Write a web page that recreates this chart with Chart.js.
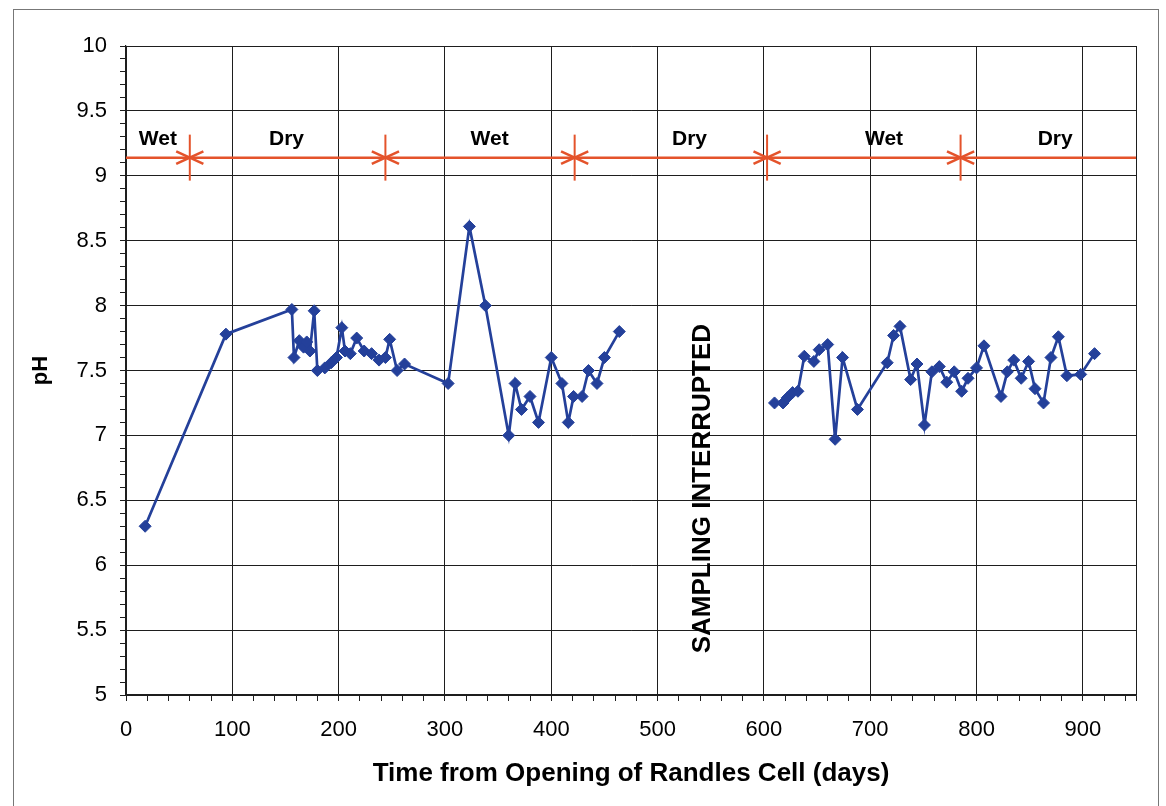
<!DOCTYPE html>
<html><head><meta charset="utf-8">
<script src="https://cdn.jsdelivr.net/npm/chart.js@4/dist/chart.umd.min.js"></script>
<style>
html,body{margin:0;padding:0;background:#fff;}
#wrap{position:relative;width:1166px;height:806px;overflow:hidden;}
#frame{position:absolute;left:13px;top:9px;width:1146px;height:820px;border:1px solid #777;box-sizing:border-box;}
canvas{position:absolute;left:0;top:0;}
</style></head><body>
<div id="wrap"><div id="frame"></div><canvas id="c" width="1166" height="806"></canvas></div>
<script>
// ---- Data ----
const daysBefore = [18, 94, 156, 158, 163, 167, 170, 173, 177, 180, 187, 193, 198, 203, 206, 211, 217, 224, 231, 238, 244, 248, 255, 262, 303, 323, 338, 360, 366, 372, 380, 388, 400, 410, 416, 421, 429, 435, 443, 450, 464];
const phBefore   = [6.3, 7.78, 7.97, 7.6, 7.73, 7.68, 7.72, 7.65, 7.96, 7.5, 7.52, 7.56, 7.6, 7.83, 7.65, 7.63, 7.75, 7.65, 7.63, 7.58, 7.6, 7.74, 7.5, 7.55, 7.4, 8.61, 8.0, 7.0, 7.4, 7.2, 7.3, 7.1, 7.6, 7.4, 7.1, 7.3, 7.3, 7.5, 7.4, 7.6, 7.8];
const daysAfter  = [610, 618, 622, 627, 632, 638, 647, 652, 660, 667, 674, 688, 716, 722, 728, 738, 744, 751, 758, 765, 772, 779, 786, 792, 800, 807, 823, 829, 835, 842, 849, 855, 863, 870, 877, 885, 898, 911];
const phAfter    = [7.25, 7.25, 7.29, 7.33, 7.34, 7.61, 7.57, 7.66, 7.7, 6.97, 7.6, 7.2, 7.56, 7.77, 7.84, 7.43, 7.55, 7.08, 7.49, 7.53, 7.41, 7.49, 7.34, 7.44, 7.52, 7.69, 7.30, 7.49, 7.58, 7.44, 7.57, 7.36, 7.25, 7.6, 7.76, 7.46, 7.47, 7.63];

const seasonLevel = 9.14;
const seasonLineEnds = [0, 950];
const seasonChangeDays = [60, 244, 422, 603, 785];
const seasonLabels = ['Wet', 'Dry', 'Wet', 'Dry', 'Wet', 'Dry'];
const seasonLabelDays = [30, 151, 342, 530, 713, 874];
const seasonLabelLevel = 9.28;

const noteText = 'SAMPLING INTERRUPTED';
const noteDay = 543;
const noteLevel = 6.59;

const xTickLabels = [0, 100, 200, 300, 400, 500, 600, 700, 800, 900];
const yTickLabels = ['5', '5.5', '6', '6.5', '7', '7.5', '8', '8.5', '9', '9.5', '10'];
const xMin = 0, xMax = 950, xMinorStep = 20;
const yMin = 5, yMax = 10, yMinorStep = 0.1;

// ---- Build datasets ----
const phPoints = daysBefore.map((d, i) => ({x: d, y: phBefore[i]}))
  .concat([{x: 535, y: null}])
  .concat(daysAfter.map((d, i) => ({x: d, y: phAfter[i]})));

const seasonLinePoints = [{x: seasonLineEnds[0], y: seasonLevel}]
  .concat(seasonChangeDays.map(d => ({x: d, y: seasonLevel})))
  .concat([{x: seasonLineEnds[1], y: seasonLevel}]);
const seasonMarks = seasonChangeDays.map(d => ({x: d, y: seasonLevel}));

const BLUE = '#24409a';
const RED = '#e4532b';
const GRID = '#1e1e1e';
const FONT = '"Liberation Sans", Arial, sans-serif';

const isMajorY = v => Math.abs(v * 2 - Math.round(v * 2)) < 1e-6;
const isMajorX = v => xTickLabels.includes(v) || v === xMax;

const textPlugin = {
  id: 'texts',
  afterDatasetsDraw(chart) {
    const {ctx, scales: {x, y}} = chart;
    ctx.save();
    ctx.fillStyle = '#000';
    ctx.font = 'bold 21px ' + FONT;
    ctx.textAlign = 'center';
    ctx.textBaseline = 'middle';
    seasonLabels.forEach((t, i) => {
      ctx.fillText(t, x.getPixelForValue(seasonLabelDays[i]), y.getPixelForValue(seasonLabelLevel));
    });
    ctx.translate(x.getPixelForValue(noteDay), y.getPixelForValue(noteLevel));
    ctx.rotate(-Math.PI / 2);
    ctx.font = 'bold 26px ' + FONT;
    ctx.fillText(noteText, 0, 0);
    ctx.restore();
  }
};

new Chart(document.getElementById('c'), {
  type: 'line',
  data: {
    datasets: [
      {
        data: phPoints,
        borderColor: BLUE,
        backgroundColor: BLUE,
        borderWidth: 2.7,
        pointStyle: 'rectRot',
        pointRadius: 6,
        pointBorderWidth: 1,
        pointBackgroundColor: BLUE,
        pointBorderColor: BLUE,
        spanGaps: false,
        tension: 0,
        order: 1
      },
      {
        data: seasonLinePoints,
        borderColor: RED,
        borderWidth: 2.5,
        pointStyle: 'line',
        pointRotation: 90,
        pointRadius: ctx => (ctx.dataIndex === 0 || ctx.dataIndex === seasonLinePoints.length - 1) ? 0 : 23,
        pointBorderColor: RED,
        pointBorderWidth: 2,
        tension: 0,
        order: 2
      },
      {
        data: seasonMarks,
        showLine: false,
        pointStyle: 'line',
        pointRotation: 25,
        pointRadius: 15,
        pointBorderColor: RED,
        pointBorderWidth: 2.5,
        order: 2
      },
      {
        data: seasonMarks,
        showLine: false,
        pointStyle: 'line',
        pointRotation: -25,
        pointRadius: 15,
        pointBorderColor: RED,
        pointBorderWidth: 2.5,
        order: 2
      }
    ]
  },
  options: {
    responsive: false,
    animation: false,
    devicePixelRatio: 1,
    layout: {padding: {left: 14, top: 46, right: 30, bottom: 0}},
    plugins: {legend: {display: false}, tooltip: {enabled: false}},
    scales: {
      x: {
        type: 'linear',
        min: xMin, max: xMax,
        afterBuildTicks: s => {
          const t = [];
          for (let v = xMin; v < xMax; v += xMinorStep) t.push({value: v});
          t.push({value: xMax});
          s.ticks = t;
        },
        afterFit: s => { s.height = 111; },
        ticks: {
          autoSkip: false, maxRotation: 0, minRotation: 0,
          color: '#000',
          font: {family: FONT, size: 22},
          padding: 16,
          callback: v => xTickLabels.includes(v) ? String(v) : ''
        },
        grid: {
          color: c => (c.tick && isMajorX(c.tick.value)) ? GRID : 'rgba(0,0,0,0)',
          tickColor: GRID,
          tickLength: 6,
          lineWidth: 1
        },
        border: {display: true, color: GRID, width: 1.2},
        title: {
          display: true,
          text: 'Time from Opening of Randles Cell (days)',
          color: '#000',
          font: {family: FONT, size: 26, weight: 'bold'},
          padding: {top: 0, bottom: 17}
        }
      },
      y: {
        type: 'linear',
        min: yMin, max: yMax,
        afterBuildTicks: s => {
          const t = [];
          const n = Math.round((yMax - yMin) / yMinorStep);
          for (let i = 0; i <= n; i++) t.push({value: Math.round((yMin + i * yMinorStep) * 10) / 10});
          s.ticks = t;
        },
        afterFit: s => { s.width = 112; },
        ticks: {
          autoSkip: false,
          color: '#000',
          font: {family: FONT, size: 22},
          padding: 13,
          callback: v => isMajorY(v) ? yTickLabels[Math.round((v - yMin) * 2)] : ''
        },
        grid: {
          color: c => (c.tick && isMajorY(c.tick.value)) ? GRID : 'rgba(0,0,0,0)',
          tickColor: GRID,
          tickLength: 6,
          lineWidth: 1
        },
        border: {display: true, color: GRID, width: 1.2},
        title: {
          display: true,
          text: 'pH',
          color: '#000',
          font: {family: FONT, size: 22, weight: 'bold'},
          padding: {top: 14, bottom: 0}
        }
      }
    }
  },
  plugins: [textPlugin]
});
</script>
</body></html>
